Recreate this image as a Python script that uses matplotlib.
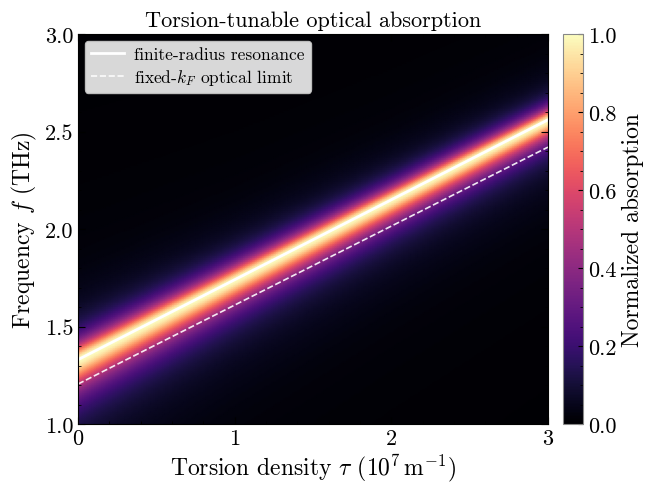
import numpy as np
import matplotlib
matplotlib.use("Agg")
import matplotlib.pyplot as plt
from matplotlib.ticker import AutoMinorLocator

plt.rcParams['font.family'] = 'serif'
plt.rcParams['font.serif'] = ['cmr10']
plt.rcParams['mathtext.fontset'] = 'cm'
plt.rcParams['axes.formatter.use_mathtext'] = True

# values
tau_pts = [0.0, 1.0, 2.0, 3.0]            # 10^7 m^-1
f_res = [1.33, 1.74, 2.15, 2.56]         # finite-radius resonance (THz)
f_opt = [1.205, 1.61, 2.015, 2.42]       # fixed-k_F optical limit (THz)
gamma_pts = [0.08, 0.068, 0.06, 0.054]   # linewidth (THz)

tau = np.linspace(0, 3, 200)
freq = np.linspace(1.0, 3.0, 200)
T, F = np.meshgrid(tau, freq)
fc = np.interp(T, tau_pts, f_res)
g = np.interp(T, tau_pts, gamma_pts)
g = np.where(F < fc, g * 1.6, g)
A = 1.0 / (1.0 + ((F - fc) / g) ** 2)
A = A / A.max()

fig = plt.figure(figsize=(6.59, 4.85), dpi=100)
ax = fig.add_axes([0.1184, 0.1237, 0.7132, 0.8041])
cax = fig.add_axes([0.8543, 0.1237, 0.0303, 0.8041])

mesh = ax.pcolormesh(tau, freq, A, cmap='magma', vmin=0, vmax=1, shading='gouraud', rasterized=True)
ax.plot(tau_pts, f_res, color='white', lw=2, label='finite-radius resonance')
ax.plot(tau_pts, f_opt, color='white', lw=1.2, ls='--', alpha=0.9, label=r'fixed-$k_F$ optical limit')

ax.set_xlim(0, 3)
ax.set_ylim(1.0, 3.0)
ax.set_xticks([0, 1, 2, 3])
ax.set_yticks([1.0, 1.5, 2.0, 2.5, 3.0])
ax.set_yticklabels(['1.0', '1.5', '2.0', '2.5', '3.0'])
ax.xaxis.set_minor_locator(AutoMinorLocator(5))
ax.yaxis.set_minor_locator(AutoMinorLocator(5))
ax.tick_params(which='both', direction='in', top=True, right=True, labelsize=16)
ax.tick_params(which='major', length=5)
ax.tick_params(which='minor', length=2.5)

ax.set_xlabel(r'Torsion density $\tau$ ($10^7\,\mathrm{m}^{-1}$)', fontsize=17, labelpad=2)
ax.set_ylabel(r'Frequency $f$ (THz)', fontsize=17)
ax.set_title('Torsion-tunable optical absorption', fontsize=16)

leg = ax.legend(loc='upper left', fontsize=12.5, framealpha=0.85, facecolor='white',
                edgecolor='#cccccc', handlelength=1.9, handletextpad=0.6,
                labelspacing=0.25, borderpad=0.35, borderaxespad=0.4)

cb = fig.colorbar(mesh, cax=cax)
cb.set_ticks([0.0, 0.2, 0.4, 0.6, 0.8, 1.0])
cb.set_ticklabels(['0.0', '0.2', '0.4', '0.6', '0.8', '1.0'])
cb.ax.yaxis.set_minor_locator(AutoMinorLocator(4))
cb.ax.tick_params(which='both', direction='in', labelsize=16)
cb.set_label('Normalized absorption', fontsize=17, labelpad=4)
cb.outline.set_edgecolor('#888888')

fig.savefig('out.png', dpi=100)
